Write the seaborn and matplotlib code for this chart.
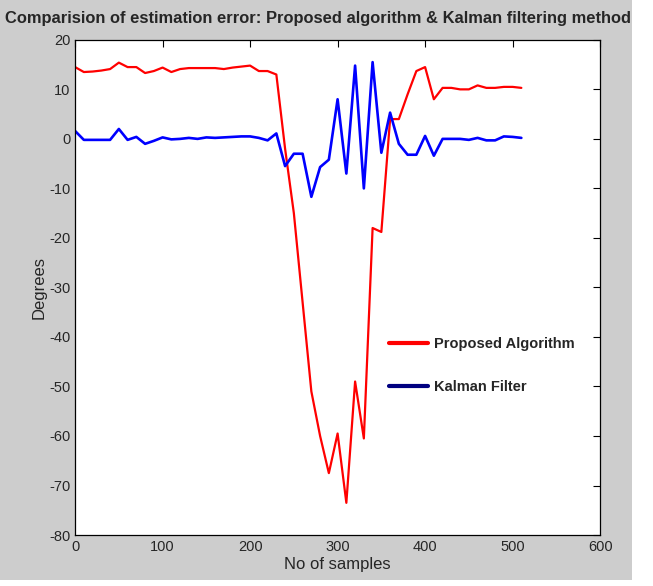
import numpy as np
import pandas as pd
import matplotlib
matplotlib.use("Agg")
import matplotlib.pyplot as plt
from matplotlib.lines import Line2D
from matplotlib.patches import Rectangle
import seaborn as sns

# sample index (every 10 samples)
samples = list(range(0, 520, 10))

# estimation error, degrees
proposed = [14.5, 13.5, 13.6, 13.8, 14.1, 15.4, 14.5, 14.5, 13.3, 13.7,
            14.4, 13.5, 14.1, 14.3, 14.3, 14.3, 14.3, 14.1, 14.4, 14.6,
            14.8, 13.7, 13.7, 13.0, -2.0, -15.0, -33.0, -51.0, -60.0, -67.5,
            -59.5, -73.5, -49.0, -60.5, -18.0, -18.8, 4.0, 4.0, 9.0, 13.7,
            14.5, 8.0, 10.3, 10.3, 10.0, 10.0, 10.8, 10.3, 10.3, 10.5,
            10.5, 10.3]
kalman = [1.6, -0.2, -0.2, -0.2, -0.2, 2.0, -0.2, 0.4, -1.0, -0.4,
          0.3, -0.1, 0.0, 0.2, 0.0, 0.3, 0.2, 0.3, 0.4, 0.5,
          0.5, 0.2, -0.3, 1.1, -5.5, -3.0, -3.0, -11.7, -5.7, -4.2,
          8.0, -7.0, 14.8, -10.0, 15.5, -2.8, 5.3, -1.0, -3.2, -3.2,
          0.6, -3.4, 0.0, 0.0, 0.0, -0.2, 0.2, -0.3, -0.3, 0.5,
          0.4, 0.2]

xticks = [0, 100, 200, 300, 400, 500, 600]
yticks = [-80, -70, -60, -50, -40, -30, -20, -10, 0, 10, 20]

sns.set_style("white")
plt.rcParams['font.family'] = ['Liberation Sans', 'DejaVu Sans']
plt.rcParams['axes.unicode_minus'] = False

fig = plt.figure(figsize=(6.53, 5.86), dpi=100, facecolor="white")
# grey matlab-like window background
fig.patches.append(Rectangle((0, 0.01), 0.968, 0.99, transform=fig.transFigure,
                             facecolor="#cdcdcd", edgecolor="none", zorder=-10))
ax = fig.add_axes([0.115, 0.087, 0.804, 0.845])
ax.set_facecolor("white")

sns.lineplot(x=samples, y=proposed, color="#ff0000", linewidth=1.6, ax=ax)
sns.lineplot(x=samples, y=kalman, color="#0000ff", linewidth=1.9, ax=ax)

ax.set_xlim(0, 600)
ax.set_ylim(-80, 20)
ax.set_xticks(xticks)
ax.set_yticks(yticks)
ax.tick_params(direction="in", length=5, top=True, right=True, labelsize=10.5,
               width=0.8, color="black")
for s in ax.spines.values():
    s.set_visible(True)
    s.set_color("black")
    s.set_linewidth(0.9)

ax.set_xlabel("No of samples", fontsize=12, labelpad=2)
ax.set_ylabel("Degrees", fontsize=12, labelpad=2)

fig.text(0.008, 0.969, "Comparision of estimation error: Proposed algorithm & Kalman filtering method",
         fontsize=11.9, fontweight="bold", ha="left", va="center")

handles = [Line2D([], [], color="#ff0000", linewidth=3),
           Line2D([], [], color="#000080", linewidth=3)]
leg = ax.legend(handles, ["Proposed Algorithm", "Kalman Filter"],
                loc="upper left", bbox_to_anchor=(0.572, 0.426), frameon=False,
                handlelength=2.7, handletextpad=0.4, labelspacing=1.95,
                prop={'weight': 'bold', 'size': 10.5})

fig.savefig("out.png", dpi=100, facecolor=fig.get_facecolor())
